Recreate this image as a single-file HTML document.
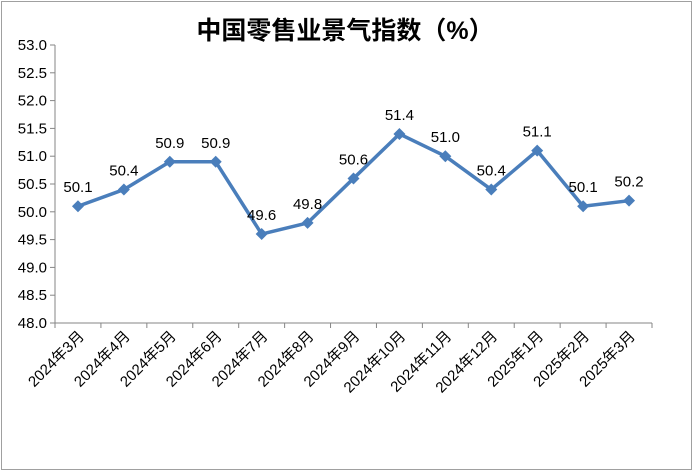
<!DOCTYPE html>
<html><head><meta charset="utf-8">
<style>body{margin:0;background:#fff}svg{display:block;font-family:"Liberation Sans","Noto Sans CJK SC",sans-serif}</style>
</head><body>
<svg id="c" width="694" height="472">
<rect x="1.5" y="1.5" width="690" height="468" fill="#fff" stroke="#a0a0a0"/>
<text x="345" y="39" text-anchor="middle" font-size="25" font-weight="bold" fill="#000">中国零售业景气指数（%）</text>
</svg>
<script>
const categories=["2024年3月","2024年4月","2024年5月","2024年6月","2024年7月","2024年8月","2024年9月","2024年10月","2024年11月","2024年12月","2025年1月","2025年2月","2025年3月"];
const values=[50.1,50.4,50.9,50.9,49.6,49.8,50.6,51.4,51.0,50.4,51.1,50.1,50.2];
const yTicks=[48.0,48.5,49.0,49.5,50.0,50.5,51.0,51.5,52.0,52.5,53.0];
const svg=document.getElementById('c');const NS='http://www.w3.org/2000/svg';
const L=55,R=652,T=45,B=323,yMin=48,yMax=53;
const band=(R-L)/categories.length;
const x=i=>L+band*(i+0.5);
const y=v=>B-(v-yMin)/(yMax-yMin)*(B-T);
function mk(t,a){const e=document.createElementNS(NS,t);for(const k in a)e.setAttribute(k,a[k]);svg.appendChild(e);return e;}
let ax=mk('line',{x1:L,y1:T,x2:L,y2:B,stroke:'#868686'});


let xa=mk('line',{x1:L,y1:B,x2:R,y2:B,stroke:'#868686'});


yTicks.forEach(v=>{
 const tk=mk('line',{x1:L-5,y1:y(v),x2:L,y2:y(v),stroke:'#868686'});
 
 
 const t=mk('text',{x:L-8,y:y(v)+5,'text-anchor':'end','font-size':15,fill:'#000'});
 t.textContent=v.toFixed(1);
 
 
});
for(let i=0;i<=categories.length;i++){
 const tk=mk('line',{x1:L+band*i,y1:B,x2:L+band*i,y2:B+5,stroke:'#868686'});
 
 
}
categories.forEach((c,i)=>{
 const px=x(i)+7,py=337;
 const t=mk('text',{x:px,y:py,'text-anchor':'end','font-size':15,fill:'#000',transform:`rotate(-45 ${px} ${py})`});
 t.textContent=c;
 
 
});
const line=mk('polyline',{points:values.map((v,i)=>x(i)+','+y(v)).join(' '),fill:'none',stroke:'#4a7ebb','stroke-width':3.5,'stroke-linejoin':'round'});


values.forEach((v,i)=>{
 const cx=x(i),cy=y(v),s=6;
 const m=mk('polygon',{points:`${cx},${cy-s} ${cx+s},${cy} ${cx},${cy+s} ${cx-s},${cy}`,fill:'#4a7ebb'});
 
 
 const t=mk('text',{x:cx,y:cy-14,'text-anchor':'middle','font-size':15,fill:'#000'});
 t.textContent=v.toFixed(1);
 
 
});
</script>
</body></html>
